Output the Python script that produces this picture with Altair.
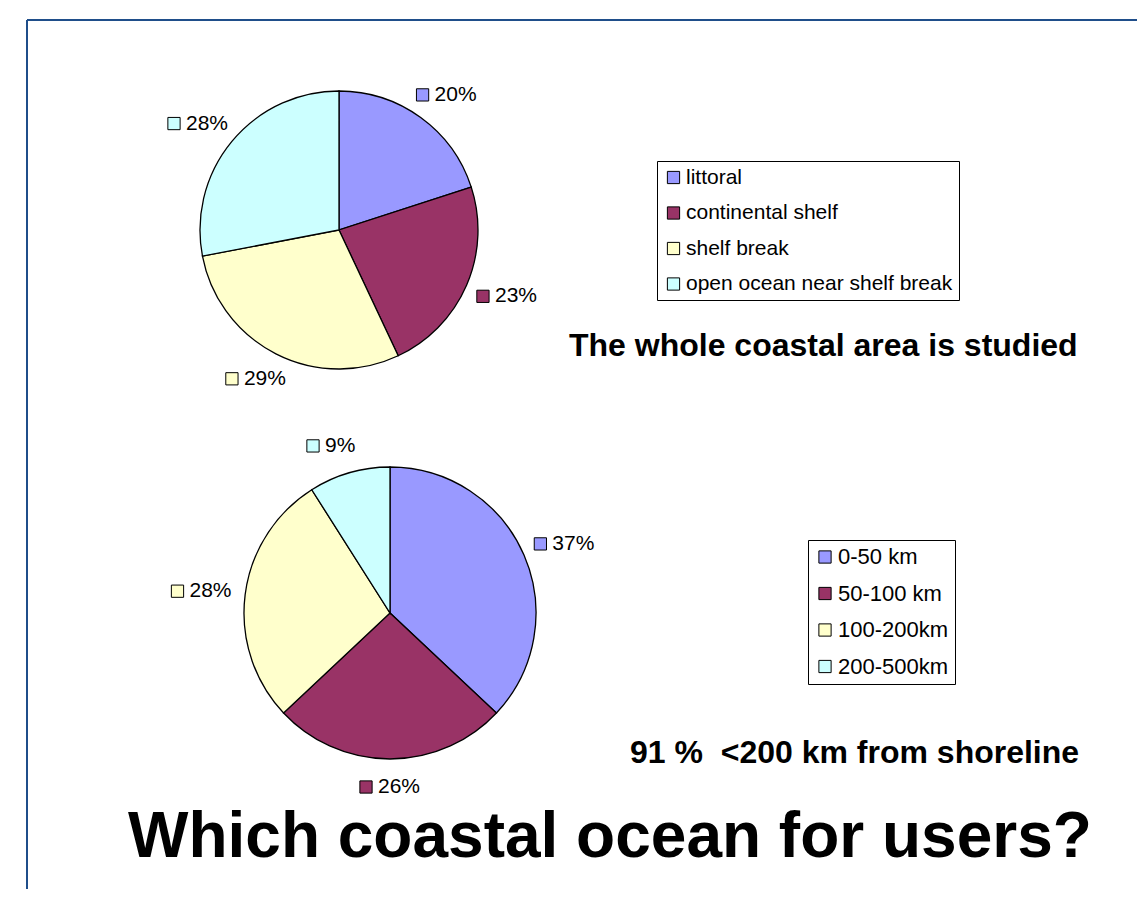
import altair as alt
import pandas as pd

# ---- data ----
zones1 = ["littoral", "continental shelf", "shelf break", "open ocean near shelf break"]
pct1 = [20, 23, 29, 28]
zones2 = ["0-50 km", "50-100 km", "100-200km", "200-500km"]
pct2 = [37, 26, 28, 9]
colors = ["#9999FF", "#993366", "#FFFFCC", "#CCFFFF"]

caption1 = "The whole coastal area is studied"
caption2 = "91 %\u00a0 <200 km from shoreline"
title_text = "Which coastal ocean for users?"

FONT = "Liberation Sans"
W, H = 1129, 881

df1 = pd.DataFrame({"zone": zones1, "pct": pct1, "order": range(4), "color": colors})
df2 = pd.DataFrame({"zone": zones2, "pct": pct2, "order": range(4), "color": colors})


def pie(df, domain, cx, cy, r, legend_x, legend_y, font_size, row_pad):
    arcs = alt.Chart(df).mark_arc(outerRadius=r, stroke="black", strokeWidth=1.3).encode(
        theta=alt.Theta("pct:Q", stack=True),
        order=alt.Order("order:Q"),
        color=alt.Color(
            "zone:N",
            scale=alt.Scale(domain=domain, range=colors),
            legend=alt.Legend(
                orient="none", legendX=legend_x, legendY=legend_y, title=None,
                strokeColor="black", fillColor="white", padding=6,
                labelFont=FONT, labelFontSize=font_size, labelColor="black",
                labelLimit=500, labelOffset=2,
                symbolType="square", symbolSize=150, symbolStrokeColor="black",
                symbolStrokeWidth=1, symbolOpacity=1, rowPadding=row_pad,
            ),
        ),
        x=alt.value(cx),
        y=alt.value(cy),
    )
    base = alt.Chart(df).transform_joinaggregate(
        total="sum(pct)"
    ).transform_window(
        cum="sum(pct)", sort=[alt.SortField("order")], frame=[None, 0]
    ).transform_calculate(
        ang="(datum.cum - datum.pct/2) / datum.total * 2 * PI"
    ).transform_calculate(
        lx=f"{cx} + {r + 44} * sin(datum.ang)",
        ly=f"{cy} - {r + 28} * cos(datum.ang)",
    ).transform_calculate(
        sx="datum.lx - 24",
        tx="datum.lx - 12",
        label="datum.pct + '%'",
    )
    squares = base.mark_point(shape="square", filled=True, size=150, stroke="black",
                              strokeWidth=1, opacity=1).encode(
        x=alt.X("sx:Q", scale=None, axis=None),
        y=alt.Y("ly:Q", scale=None, axis=None),
        fill=alt.Fill("color:N", scale=None),
    )
    labels = base.mark_text(align="left", baseline="middle", font=FONT, fontSize=21,
                            color="black").encode(
        x=alt.X("tx:Q", scale=None, axis=None),
        y=alt.Y("ly:Q", scale=None, axis=None),
        text="label:N",
    )
    return alt.layer(arcs, squares, labels)


pie1 = pie(df1, zones1, 331, 222, 139, 649, 153, 21, 13.5)
pie2 = pie(df2, zones2, 382, 605, 146, 800, 532, 22, 14.5)

one = pd.DataFrame({"a": [0]})


def caption(text, x, y, size):
    return alt.Chart(pd.DataFrame({"t": [text]})).mark_text(
        align="left", baseline="alphabetic", font=FONT, fontSize=size,
        fontWeight="bold", color="black"
    ).encode(text="t:N", x=alt.value(x), y=alt.value(y))


cap1 = caption(caption1, 561, 348, 32)
cap2 = caption(caption2, 622, 755, 32)
title = caption(title_text, 120, 849, 64)

border_color = "#1F4E8A"
top_line = alt.Chart(one).mark_rule(color=border_color, strokeWidth=2).encode(
    x=alt.value(19), x2=alt.value(W), y=alt.value(12))
left_line = alt.Chart(one).mark_rule(color=border_color, strokeWidth=2).encode(
    x=alt.value(19), y=alt.value(12), y2=alt.value(H))

chart = alt.layer(
    top_line, left_line, pie1, pie2, cap1, cap2, title
).resolve_scale(
    color="independent", theta="independent"
).properties(
    width=W, height=H, autosize="none", padding=0
).configure_view(stroke=None)

chart.save("out.html", embed_options={"renderer": "svg", "actions": False})
